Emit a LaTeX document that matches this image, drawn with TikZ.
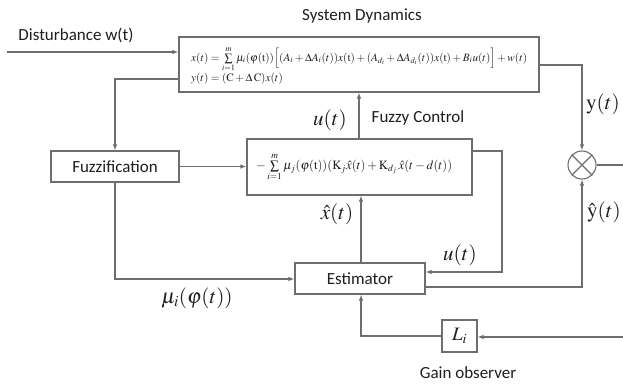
\documentclass[tikz,border=0pt]{standalone}
\usepackage{mathptmx}
\usepackage{graphicx}
\usepackage[no-math]{fontspec}
\setmainfont{Carlito}
\usetikzlibrary{arrows.meta}
\definecolor{lc}{HTML}{6E6E6E}
\definecolor{tc}{HTML}{1E1E1E}
\begin{document}
\begin{tikzpicture}[x=1pt,y=-1pt,
  ln/.style={draw=lc, line width=1.1pt},
  arr/.style={ln, -{Latex[length=6pt,width=4.5pt]}},
  blk/.style={draw=lc, line width=1.1pt, inner sep=0pt, fill=white},
  lab/.style={text=tc, font=\fontsize{17}{20}\selectfont, inner sep=0pt},
  mlab/.style={text=tc, font=\fontsize{21}{24}\selectfont, inner sep=0pt}]
\useasboundingbox (0,0) rectangle (623,387);
% blocks
\node[blk, minimum width=360pt, minimum height=55pt] (top) at (359,64.5) {};
\node[blk, minimum width=225pt, minimum height=56pt] (mid) at (359.5,167) {};
\node[blk, minimum width=128pt, minimum height=31pt, lab] (fuz) at (115,166.5) {Fuzzification};
\node[blk, minimum width=130pt, minimum height=31pt, lab] (est) at (360,278.5) {Estimator};
\node[blk, minimum width=35pt, minimum height=32pt, mlab, font=\fontsize{19}{22}\selectfont] (L) at (459.5,336) {$L_i$};
\node[draw=lc, line width=1.1pt, circle, minimum size=28pt, inner sep=0pt] (sum) at (582,165) {};
\draw[ln] (sum.45) -- (sum.225) (sum.135) -- (sum.-45);
% equations
\node[anchor=west, inner sep=0pt, text=tc] (eqtop) at (191,66) {\resizebox{336pt}{!}{\begin{tabular}{@{}l@{}}
$x(t)=\sum\limits_{i=1}^{m}\mu_i(\varphi(\mathrm{t}))\Big[(A_i+\Delta A_i(t))x(\mathrm{t})+(A_{d_i}+\Delta A_{d_i}(t))x(\mathrm{t})+B_i u(t)\Big]+w(t)$\\[1pt]
$y(t)=(\mathrm{C}+\Delta\,\mathrm{C})x(t)$
\end{tabular}}};
\node[anchor=west, inner sep=0pt, text=tc] (eqmid) at (256,167) {\resizebox{196pt}{!}{$-\sum\limits_{i=1}^{m}\mu_j(\varphi(\mathrm{t}))(\mathrm{K}_j\hat{x}(t)+\mathrm{K}_{d_j}\,\hat{x}(t-d(t))$}};
% labels
\node[lab] (tsys) at (362,16) {System Dynamics};
\node[lab] (tdist) at (76,35) {Disturbance w(t)};
\node[lab] (tfc) at (418,118) {Fuzzy Control};
\node[lab] (tgo) at (468,373) {Gain observer};
\node[mlab] (lu1) at (330,120) {$u(t)$};
\node[mlab] (ly) at (603,104) {$\mathrm{y}(t)$};
\node[mlab] (lyh) at (604,212) {$\hat{\mathrm{y}}(t)$};
\node[mlab] (lu2) at (460,255) {$u(t)$};
\node[mlab] (lxh) at (337,214) {$\hat{x}(t)$};
\node[mlab] (lmu) at (197,298) {$\mu_i(\varphi(t))$};
% coordinates
\coordinate (din) at (7,52);
\coordinate (yout) at (623,165);
\coordinate (lin) at (623,337);
% connectors
\draw[arr] (din) -- (din -| top.west);
\draw[arr] (top.east |- 0,65) -| (sum.north);
\draw[ln] (sum.east) -- (yout);
\draw[arr] (top.west |- 0,79) -| (fuz.north);
\draw[arr] (fuz.east) -- (fuz.east -| mid.west);
\draw[arr] (mid.north -| 359,0) -- (top.south -| 359,0);
\draw[arr] (mid.east |- 0,151) -- (502,151) |- (est.east |- 0,272);
\draw[arr] (fuz.south) |- (est.west |- 0,279);
\draw[arr] (est.north -| 361,0) -- (mid.south -| 361,0);
\draw[arr] (est.east |- 0,287) -| (sum.south);
\draw[arr] (lin) -- (L.east |- lin);
\draw[arr] (L.west |- 0,336) -| (est.south -| 361,0);
\end{tikzpicture}
\end{document}
